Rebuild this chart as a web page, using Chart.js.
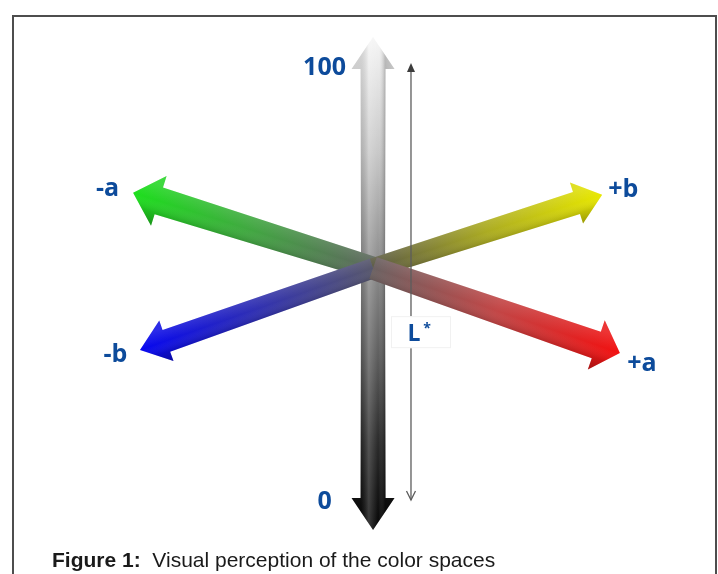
<!DOCTYPE html>
<html>
<head>
<meta charset="utf-8">
<title>Visual perception of the color spaces</title>
<script src="https://cdn.jsdelivr.net/npm/chart.js@4.4.1/dist/chart.umd.min.js"></script>
<style>
  html, body { margin: 0; padding: 0; background: #fff; overflow: hidden; }
  #wrap { position: relative; width: 718px; height: 574px; }
  #frame { position: absolute; left: 12px; top: 15px; width: 705px; height: 620px; border: 2px solid #4d4d4d; box-sizing: border-box; }
  #caption { position: absolute; left: 52px; top: 548px; font-family: "Liberation Sans", Arial, sans-serif; font-size: 21px; line-height: 24px; color: #1a1a1a; white-space: pre; }
  canvas { position: absolute; left: 0; top: 0; }
</style>
</head>
<body>
<div id="wrap">
  <div id="frame"></div>
  <canvas id="labChart" width="718" height="574"></canvas>
  <div id="caption"><b>Figure 1:</b>  Visual perception of the color spaces</div>
</div>
<script>
// L* axis (lightness) runs along y; the a/b axes are drawn in perspective around the centre
const lightnessLabels = ["100", "0"];
const lightnessValues = [100, 0];
const centreL = 53.1;

const chromaLabels = ["-a", "+b", "-b", "+a"];
const chromaX = [-48.7, 46.5, -47.3, 50.1];
const chromaL = [68.4, 68.0, 36.5, 35.9];

// thin L* guide next to the main axis
const guideX = 7.7;
const guideRange = [6.1, 94.7];
const guideLabel = "L";
const guideLabelL = 38.3;

// Styles (pixels)
const labelColor = "#0d4b9b";
const labelFont = 'bold 25px "Open Sans", "DejaVu Sans", sans-serif';
const lightnessStyle = {
  "100": { colors: ["#8a8a8a", "#c8c8c8", "#f6f6f6"], w0: 12, w1: 12.5, hw: 21.5, hl: 32, label: [-48.5, 38] },
  "0": { colors: ["#8a8a8a", "#5e5e5e", "#2a2a2a", "#050505"], w0: 12, w1: 12.5, hw: 21.5, hl: 32, label: [-48.5, -21] },
};
const chromaStyle = {
  "-a": { colors: ["#5f665f", "#42a642", "#1ddf1d"], w0: 11.5, w1: 14, hw: 26, hl: 27, label: [-25.5, 3] },
  "+b": { colors: ["#5c5b46", "#acac22", "#e8e800"], w0: 10, w1: 11.5, hw: 21.5, hl: 27, label: [21, 2] },
  "-b": { colors: ["#58586c", "#3030b2", "#0606f0"], w0: 10, w1: 11.5, hw: 21.5, hl: 28, label: [-24.5, 12] },
  "+a": { colors: ["#6c6262", "#c24646", "#f21010"], w0: 11.5, w1: 14, hw: 26, hl: 25, label: [22, 18] },
};
const drawOrder = ["-a", "+b", "-b", "+a"];

function arrowPath(ctx, x0, y0, x1, y1, s) {
  const len = Math.hypot(x1 - x0, y1 - y0);
  const ux = (x1 - x0) / len, uy = (y1 - y0) / len;
  const nx = -uy, ny = ux;
  const bx = x1 - ux * s.hl, by = y1 - uy * s.hl;
  ctx.beginPath();
  ctx.moveTo(x0 + nx * s.w0, y0 + ny * s.w0);
  ctx.lineTo(bx + nx * s.w1, by + ny * s.w1);
  ctx.lineTo(bx + nx * s.hw, by + ny * s.hw);
  ctx.lineTo(x1, y1);
  ctx.lineTo(bx - nx * s.hw, by - ny * s.hw);
  ctx.lineTo(bx - nx * s.w1, by - ny * s.w1);
  ctx.lineTo(x0 - nx * s.w0, y0 - ny * s.w0);
  ctx.closePath();
  return { nx, ny };
}

function drawArrow(ctx, x0, y0, x1, y1, s, vertical) {
  const { nx, ny } = arrowPath(ctx, x0, y0, x1, y1, s);
  const g = ctx.createLinearGradient(x0, y0, x1, y1);
  s.colors.forEach((c, i) => g.addColorStop(i / (s.colors.length - 1), c));
  ctx.fillStyle = g;
  ctx.fill();

  // bevel shading across the arrow
  let sh;
  if (vertical) {
    sh = ctx.createLinearGradient(x0 - s.hw, 0, x0 + s.hw, 0);
    sh.addColorStop(0.22, "rgba(0,0,0,0.12)");
    sh.addColorStop(0.4, "rgba(255,255,255,0.2)");
    sh.addColorStop(0.62, "rgba(255,255,255,0)");
    sh.addColorStop(0.78, "rgba(0,0,0,0.22)");
    sh.addColorStop(1, "rgba(0,0,0,0.15)");
  } else {
    const sgn = ny < 0 ? 1 : -1;
    const mx = (x0 + x1) / 2, my = (y0 + y1) / 2, r = s.hw;
    sh = ctx.createLinearGradient(mx + nx * sgn * r, my + ny * sgn * r, mx - nx * sgn * r, my - ny * sgn * r);
    sh.addColorStop(0.2, "rgba(255,255,255,0.12)");
    sh.addColorStop(0.5, "rgba(255,255,255,0)");
    sh.addColorStop(0.74, "rgba(0,0,0,0.12)");
    sh.addColorStop(1, "rgba(0,0,0,0.3)");
  }
  ctx.fillStyle = sh;
  ctx.fill();
}

const lab3dPlugin = {
  id: "lab3d",
  afterDatasetsDraw(chart) {
    const { ctx } = chart;
    const xs = chart.scales.x, ys = chart.scales.y;
    const px = (v) => xs.getPixelForValue(v);
    const py = (v) => ys.getPixelForValue(v);
    const cx = px(0), cy = py(centreL);

    ctx.save();
    // main L axis: up to 100, down to 0
    lightnessLabels.forEach((name, i) => {
      drawArrow(ctx, cx, cy, px(0), py(lightnessValues[i]), lightnessStyle[name], true);
    });
    // a / b axes
    drawOrder.forEach((name) => {
      const i = chromaLabels.indexOf(name);
      drawArrow(ctx, cx, cy, px(chromaX[i]), py(chromaL[i]), chromaStyle[name], false);
    });

    // thin L* guide with arrow heads
    const gx = px(guideX), gTop = py(guideRange[1]), gBot = py(guideRange[0]);
    ctx.strokeStyle = "#5c5c5c";
    ctx.fillStyle = "#3c3c3c";
    ctx.lineWidth = 1.3;
    ctx.beginPath();
    ctx.moveTo(gx, gTop + 4);
    ctx.lineTo(gx, gBot);
    ctx.stroke();
    ctx.beginPath();
    ctx.moveTo(gx, gTop);
    ctx.lineTo(gx - 4, gTop + 9);
    ctx.lineTo(gx + 4, gTop + 9);
    ctx.closePath();
    ctx.fill();
    ctx.beginPath();
    ctx.moveTo(gx - 4.5, gBot - 9);
    ctx.lineTo(gx, gBot);
    ctx.lineTo(gx + 4.5, gBot - 9);
    ctx.stroke();

    // label box interrupting the guide
    const ly = py(guideLabelL);
    ctx.fillStyle = "#ffffff";
    ctx.fillRect(gx - 20, ly - 25, 60, 32);
    ctx.strokeStyle = "#f1f1f1";
    ctx.lineWidth = 1;
    ctx.strokeRect(gx - 19.5, ly - 24.5, 59, 31);
    ctx.fillStyle = labelColor;
    ctx.textAlign = "center";
    ctx.textBaseline = "alphabetic";
    ctx.font = 'bold 23px "Open Sans", "DejaVu Sans", sans-serif';
    ctx.fillText(guideLabel, gx + 3, ly);
    ctx.font = 'bold 14px "Open Sans", "DejaVu Sans", sans-serif';
    ctx.fillText("*", gx + 16, ly - 8);

    // axis end labels
    ctx.font = labelFont;
    lightnessLabels.forEach((name, i) => {
      const o = lightnessStyle[name].label;
      ctx.fillText(name, px(0) + o[0], py(lightnessValues[i]) + o[1]);
    });
    chromaLabels.forEach((name, i) => {
      const o = chromaStyle[name].label;
      ctx.fillText(name, px(chromaX[i]) + o[0], py(chromaL[i]) + o[1]);
    });
    ctx.restore();
  },
};

const tipPoints = chromaX.map((x, i) => ({ x: x, y: chromaL[i] }))
  .concat(lightnessValues.map((v) => ({ x: 0, y: v })));

const ctx = document.getElementById("labChart").getContext("2d");
const chart = new Chart(ctx, {
  type: "scatter",
  data: {
    datasets: [
      {
        label: "axis tips",
        data: tipPoints,
        pointRadius: 0,
        pointHoverRadius: 0,
      },
    ],
  },
  options: {
    responsive: false,
    animation: false,
    layout: { padding: 0 },
    plugins: {
      legend: { display: false },
      tooltip: { enabled: false },
    },
    scales: {
      x: { type: "linear", display: false, min: -75.7, max: 70.0 },
      y: { type: "linear", display: false, min: -8.92, max: 107.5 },
    },
  },
  plugins: [lab3dPlugin],
});
</script>
</body>
</html>
